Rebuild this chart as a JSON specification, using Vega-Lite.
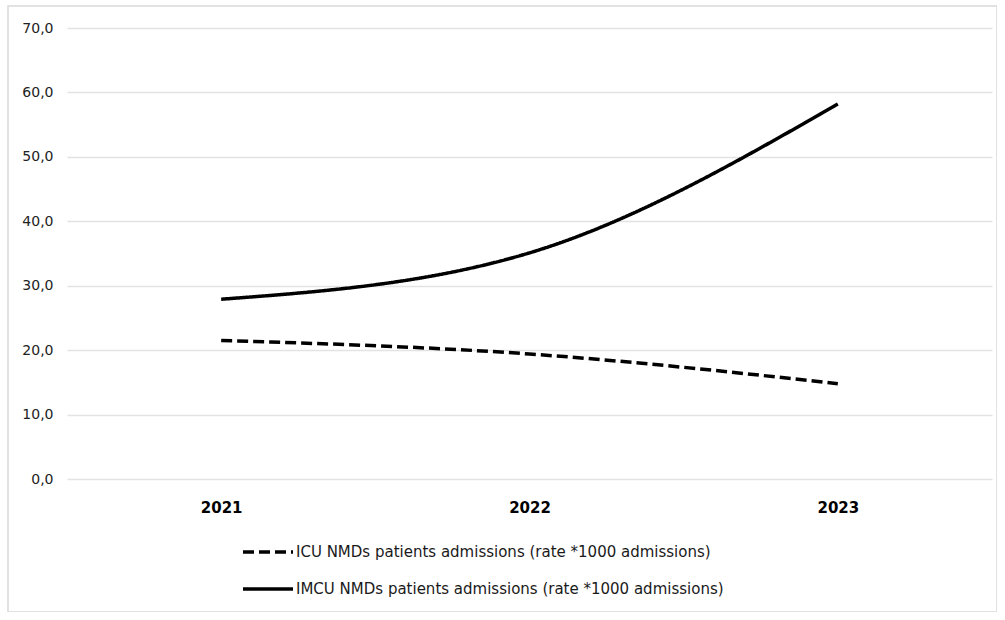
{
  "$schema": "https://vega.github.io/schema/vega-lite/v6.json",
  "autosize": "none",
  "padding": {"left": 8, "top": 6, "right": 0, "bottom": 0},
  "width": 989,
  "height": 606,
  "background": "white",
  "config": {
    "locale": {"number": {"decimal": ",", "thousands": ".", "grouping": [3], "currency": ["", " €"]}},
    "view": {"stroke": "#d9d9d9", "strokeWidth": 1.5},
    "font": "DejaVu Sans"
  },
  "data": {
    "values": [
      {"series": "ICU NMDs patients admissions (rate *1000 admissions)", "year": "2021", "value": 21.5},
      {"series": "ICU NMDs patients admissions (rate *1000 admissions)", "year": "2022", "value": 19.4},
      {"series": "ICU NMDs patients admissions (rate *1000 admissions)", "year": "2023", "value": 14.8},
      {"series": "IMCU NMDs patients admissions (rate *1000 admissions)", "year": "2021", "value": 27.9},
      {"series": "IMCU NMDs patients admissions (rate *1000 admissions)", "year": "2022", "value": 35.1},
      {"series": "IMCU NMDs patients admissions (rate *1000 admissions)", "year": "2023", "value": 58.2}
    ]
  },
  "mark": {"type": "line", "interpolate": "monotone", "color": "black", "strokeWidth": 3.5},
  "encoding": {
    "x": {
      "field": "year", "type": "ordinal",
      "scale": {"type": "point", "padding": 0.5, "range": [59, 984]},
      "axis": {
        "title": null, "orient": "bottom", "offset": -112, "domain": false, "ticks": false,
        "labelPadding": 0, "labelAngle": 0, "labelFontSize": 15, "labelFontWeight": "bold",
        "labelColor": "#000000"
      }
    },
    "y": {
      "field": "value", "type": "quantitative",
      "scale": {"domain": [0, 70], "nice": false, "zero": true, "range": [473, 22]},
      "axis": {
        "title": null, "values": [0, 10, 20, 30, 40, 50, 60, 70], "format": ".1f",
        "offset": -45, "domain": false, "ticks": false, "labelPadding": 0,
        "labelFontSize": 14, "labelColor": "#222222",
        "grid": true, "gridColor": "#e3e3e3", "gridWidth": 1.5
      }
    },
    "strokeDash": {
      "field": "series", "type": "nominal",
      "scale": {
        "domain": ["ICU NMDs patients admissions (rate *1000 admissions)", "IMCU NMDs patients admissions (rate *1000 admissions)"],
        "range": [[11, 5], [1, 0]]
      },
      "legend": {
        "title": null, "orient": "none", "legendX": 233, "legendY": 519,
        "direction": "vertical", "symbolType": "stroke", "symbolSize": 2500,
        "symbolStrokeWidth": 3.5, "symbolStrokeColor": "black",
        "labelFontSize": 15, "labelColor": "#1a1a1a", "labelOffset": 1,
        "labelLimit": 600, "rowPadding": 2
      }
    }
  }
}
